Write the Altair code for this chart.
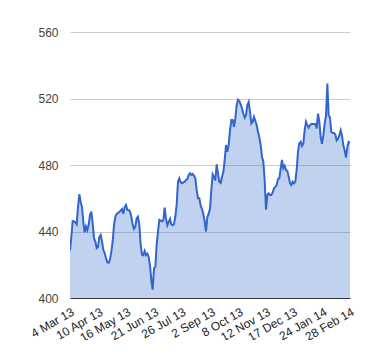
import altair as alt
import pandas as pd

# Daily closing values (evenly spaced over the period)
values_part1 = [
    428.7, 436.7, 446.3, 446.0, 445.5, 444.3, 454.7, 462.4, 457.7, 454.7,
    445.7, 439.5, 443.0, 440.7, 444.0, 450.0, 452.0, 445.0, 436.0, 434.0,
    430.0, 430.7, 436.7, 438.0, 434.0, 429.0, 427.0, 424.0, 421.5, 421.1,
    423.1, 428.0, 434.0, 444.0, 449.0, 450.5, 451.2, 451.7, 452.5, 453.5,
    450.7, 454.7, 456.0, 453.0, 453.0, 452.0, 449.0, 444.0, 441.5, 443.0,
    448.0, 449.0, 444.0, 432.0, 426.0, 425.7, 428.3, 425.7, 426.7, 424.7,
    419.6, 410.6, 405.0, 418.0, 418.6, 432.0, 440.0, 447.0, 446.5, 446.0,
    446.7, 454.3, 447.7, 443.7, 445.7, 447.7, 444.3, 443.8, 444.5, 449.0,
    456.0, 470.0, 472.0, 469.5, 469.0, 469.5, 470.0, 471.0, 471.5, 474.0,
    475.0, 474.0, 474.6, 473.5, 472.0, 465.0, 460.0, 460.0, 455.5, 453.5,
    450.5, 446.0, 440.0, 448.7, 450.7,
]
values_part2 = [
    453.7, 464.8, 474.4, 472.8, 470.8, 480.4, 474.8, 469.8, 469.2, 472.8,
    475.8, 482.8, 492.0, 488.0, 492.0, 501.0, 507.0, 507.0, 503.0, 508.0,
    516.0, 519.3, 518.5, 516.5, 514.0, 511.0, 508.5, 510.0, 516.0, 518.0,
    512.0, 505.0, 506.0, 509.0, 506.5, 504.0, 500.0, 496.5, 492.0, 485.0,
    482.0, 470.8, 453.1, 462.0, 463.0, 462.0, 462.0, 463.5, 466.0, 466.8,
    468.0, 471.5, 472.0, 478.0, 483.0, 478.0, 479.5, 477.0, 476.5, 473.0,
    469.0, 468.0, 470.0, 469.0, 470.0, 477.0, 488.0, 493.0, 494.0, 491.5,
    493.0, 501.0, 506.0, 504.0, 502.5, 504.0, 504.7, 504.7, 504.7, 504.7,
    502.0, 510.9, 505.9, 496.8, 492.8, 497.8, 504.9, 509.9, 529.0, 509.9,
    508.5, 499.8, 499.2, 499.2, 498.4, 494.8, 495.8, 497.8, 500.9, 497.8,
    491.8, 488.8, 484.4, 490.8, 493.8, 493.2,
]
values = values_part1 + values_part2

start_date = "2013-03-04"
end_date = "2014-02-28"

# x-axis tick labels (year, month, day)
tick_dates = [
    (2013, 3, 4), (2013, 4, 10), (2013, 5, 16), (2013, 6, 21), (2013, 7, 26),
    (2013, 9, 2), (2013, 10, 8), (2013, 11, 12), (2013, 12, 17),
    (2014, 1, 24), (2014, 2, 28),
]
y_ticks = [400, 440, 480, 520, 560]

dates = pd.date_range(start_date, end_date, periods=len(values))
df = pd.DataFrame({"date": dates, "value": values})

x_enc = alt.X(
    "date:T",
    scale=alt.Scale(nice=False),
    axis=alt.Axis(
        values=[alt.DateTime(year=y, month=m, date=d) for (y, m, d) in tick_dates],
        format="%-d %b %y",
        labelAngle=-30,
        labelFont="Liberation Sans",
        labelFontSize=12,
        labelColor="#222222",
        labelPadding=8,
        labelOverlap=False,
        ticks=False,
        grid=False,
        domainColor="#333333",
        domainWidth=1,
        title=None,
        zindex=1,
    ),
)
y_enc = alt.Y(
    "value:Q",
    scale=alt.Scale(domain=[400, 560], zero=False, nice=False),
    axis=alt.Axis(
        values=y_ticks,
        grid=True,
        gridColor="#cccccc",
        domain=False,
        ticks=False,
        labelPadding=12,
        labelFont="Liberation Sans",
        labelFontSize=12,
        labelColor="#444444",
        title=None,
    ),
)

base = alt.Chart(df).encode(x=x_enc, y=y_enc)
area = base.mark_area(color="#3366cc", opacity=0.3, clip=True)
line = base.mark_line(color="#3366cc", strokeWidth=2, clip=True)

chart = (
    alt.layer(area, line)
    .properties(
        width=280,
        height=266,
        autosize=alt.AutoSizeParams(type="none"),
        padding={"left": 62, "top": 24, "right": 22, "bottom": 42},
    )
    .configure_view(stroke=None)
)

chart.save("out.html", embed_options={"renderer": "svg", "actions": False})
